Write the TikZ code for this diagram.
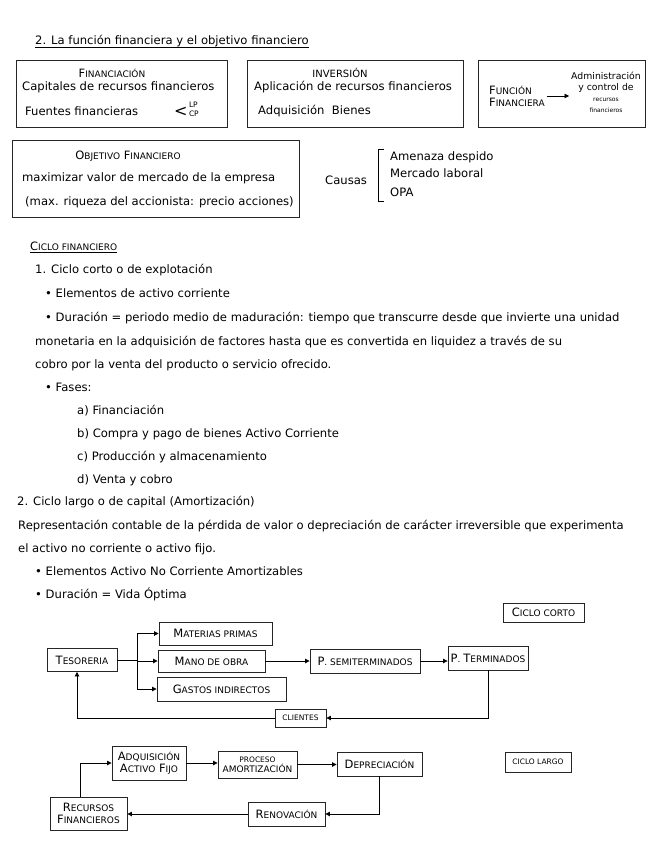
\documentclass[tikz,border=0pt]{standalone}
\usepackage{fontspec}
\setmainfont{DejaVu Sans}
\usetikzlibrary{arrows.meta}
\newcommand\notefont{\fontsize{11.6}{13}\selectfont}
\newcommand\capbig{\fontsize{11.5}{12}\selectfont}
\newcommand\capsmall{\fontsize{9}{10}\selectfont}
\newcommand\capw[2]{#1{\capsmall#2}}
\begin{document}
\begin{tikzpicture}[x=1pt,y=-1pt,
  note/.style={anchor=base west,inner sep=0pt,font=\notefont},
  panel/.style={draw=black!85,line width=0.9pt},
  box/.style={draw=black!85,line width=0.9pt,inner sep=1pt,align=center,font=\capbig},
  wire/.style={line width=0.8pt},
  flow/.style={line width=0.8pt,-{Triangle[length=4.5pt,width=4.5pt]}}]
  \useasboundingbox (0,0) rectangle (656,848);
  % title
  \node[note] (title) at (35,45) {2. La función financiera y el objetivo financiero};
  \draw[line width=0.6pt] (title.south west) -- (title.south east);
  % financiacion
  \draw[panel] (16,60) rectangle (227,127);
  \node[font=\capbig] (finh) at (112,73) {\capw{F}{INANCIACIÓN}};
  \node[note] (capi) at (22,91) {Capitales de recursos financieros};
  \node[note] (fuen) at (25,116) {Fuentes financieras};
  \node[note,font=\fontsize{16}{16}\selectfont] (lt) at (174,117) {<};
  \node[anchor=west,inner sep=1pt,align=left,font=\fontsize{7.5}{9}\selectfont] (lpcp) at ([yshift=3pt]lt.east) {LP\\CP};
  % inversion
  \draw[panel] (247,60) rectangle (463,127);
  \node[font=\fontsize{10}{12}\selectfont] (invh) at (340,73) {INVERSIÓN};
  \node[note] (apli) at (254,91) {Aplicación de recursos financieros};
  \node[note] (adqb) at (258,114) {Adquisición\ \ Bienes};
  % funcion financiera
  \draw[panel] (478,60) rectangle (645,127);
  \node[align=left,inner sep=0pt,font=\capbig] (func) at (517,96) {\capw{F}{UNCIÓN}\\\capw{F}{INANCIERA}};
  \node[align=center,inner sep=0pt,font=\fontsize{9.3}{11}\selectfont] (admin) at (606,92) {Administración\\y control de\\{\fontsize{6}{7}\selectfont recursos}\\{\fontsize{6}{7}\selectfont financieros}};
  \draw[flow,line width=0.6pt,shorten <=2pt,shorten >=2pt] (func.east) -- (func.east -| admin.west);
  % objetivo
  \draw[panel] (12,140) rectangle (299,217);
  \node[font=\capbig] (obj) at (128,156) {\capw{O}{BJETIVO} \capw{F}{INANCIERO}};
  \node[note] (maxi) at (22,181) {maximizar valor de mercado de la empresa};
  \node[note] (riq) at (25,205) {(max. riqueza del accionista: precio acciones)};
  % causas
  \node[note] (causas) at (325,184) {Causas};
  \node[note] (c1) at (390,160) {Amenaza despido};
  \node[note] (c2) at (390,177) {Mercado laboral};
  \node[note] (c3) at (390,196) {OPA};
  \draw[wire] (384,149) -- (378,149) -- (378,201) -- (384,201);
  % ciclo financiero
  \node[anchor=base west,inner sep=0pt,font=\capbig] (ciclo) at (30,250) {\capw{C}{ICLO FINANCIERO}};
  \draw[line width=0.6pt] ([yshift=-2pt]ciclo.south west) -- ([yshift=-2pt]ciclo.south east);
  \node[note] (l1) at (35,273) {1. Ciclo corto o de explotación};
  \node[note] (l2) at (45,297) {\textbullet\ Elementos de activo corriente};
  \node[note] (l3) at (45,321) {\textbullet\ Duración = periodo medio de maduración: tiempo que transcurre desde que invierte una unidad};
  \node[note] (l4) at (35,345) {monetaria en la adquisición de factores hasta que es convertida en liquidez a través de su};
  \node[note] (l5) at (35,368) {cobro por la venta del producto o servicio ofrecido.};
  \node[note] (l6) at (45,391) {\textbullet\ Fases:};
  \node[note] (fa) at (77,414) {a) Financiación};
  \node[note] (fb) at (77,437) {b) Compra y pago de bienes Activo Corriente};
  \node[note] (fc) at (77,460) {c) Producción y almacenamiento};
  \node[note] (fd) at (77,483) {d) Venta y cobro};
  \node[note] (l7) at (17,505) {2. Ciclo largo o de capital (Amortización)};
  \node[note] (l8) at (18,529) {Representación contable de la pérdida de valor o depreciación de carácter irreversible que experimenta};
  \node[note] (l9) at (18,552) {el activo no corriente o activo fijo.};
  \node[note] (l10) at (35,575) {\textbullet\ Elementos Activo No Corriente Amortizables};
  \node[note] (l11) at (35,598) {\textbullet\ Duración = Vida Óptima};
  % ciclo corto
  \node[box,minimum width=81,minimum height=19] (corto) at (543.5,612.5) {\capw{C}{ICLO CORTO}};
  \node[box,minimum width=70,minimum height=23] (teso) at (82,660) {\capw{T}{ESORERIA}};
  \node[box,minimum width=113,minimum height=23] (mat) at (215.5,633.5) {\capw{M}{ATERIAS PRIMAS}};
  \node[box,minimum width=107,minimum height=22] (mano) at (211.5,661) {\capw{M}{ANO DE OBRA}};
  \node[box,minimum width=129,minimum height=24] (gas) at (221.5,689) {\capw{G}{ASTOS INDIRECTOS}};
  \node[box,minimum width=110,minimum height=24] (psemi) at (365,661) {\capw{P}{. SEMITERMINADOS}};
  \node[box,minimum width=80,minimum height=24] (pter) at (488,658) {\capw{P}{. }\capw{T}{ERMINADOS}};
  \node[box,minimum width=51,minimum height=18,font=\fontsize{7.5}{9}\selectfont] (cli) at (300.5,718) {CLIENTES};
  \draw[wire] (teso.east) -- ++(20,0) coordinate (split);
  \draw[wire] (split |- mat) -- (split |- gas);
  \draw[flow] (split |- mat) -- (mat.west);
  \draw[flow] (split |- mano) -- (mano.west);
  \draw[flow] (split |- gas) -- (gas.west);
  \draw[flow] (mano.east) -- (psemi.west);
  \draw[flow] (psemi.east) -- (psemi.east -| pter.west);
  \draw[flow] (pter.south) |- (cli.east);
  \draw[flow] (cli.west) -| ([xshift=-5pt]teso.south);
  % ciclo largo
  \node[box,minimum width=66,minimum height=20,font=\fontsize{7.5}{9}\selectfont] (largo) at (538,762) {CICLO LARGO};
  \node[box,minimum width=74,minimum height=34] (adq) at (149,763) {\capw{A}{DQUISICIÓN}\\\capw{A}{CTIVO} \capw{F}{IJO}};
  \node[box,minimum width=79,minimum height=27,font=\capsmall] (pro) at (257.5,764.5) {{\fontsize{7.5}{8}\selectfont PROCESO}\\\capw{A}{MORTIZACIÓN}};
  \node[box,minimum width=85,minimum height=24] (dep) at (379.5,764) {\capw{D}{EPRECIACIÓN}};
  \node[box,minimum width=77,minimum height=33] (rec) at (88.5,813.5) {\capw{R}{ECURSOS}\\\capw{F}{INANCIEROS}};
  \node[box,minimum width=77,minimum height=24] (ren) at (286.5,814) {\capw{R}{ENOVACIÓN}};
  \draw[flow] ([xshift=-8pt]rec.north) |- (adq.west);
  \draw[flow] (adq.east) -- (adq.east -| pro.west);
  \draw[flow] (pro.east) -- (pro.east -| dep.west);
  \draw[flow] (dep.south) |- (ren.east);
  \draw[flow] (ren.west) -- (ren.west -| rec.east);
\end{tikzpicture}
\end{document}
